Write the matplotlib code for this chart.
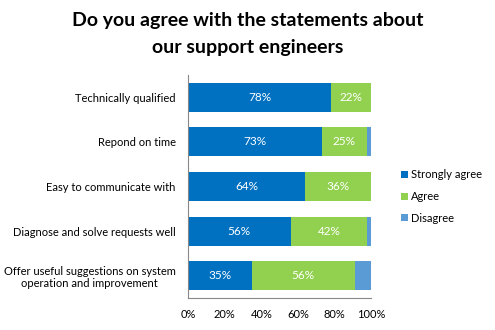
import matplotlib.pyplot as plt
from matplotlib.ticker import FuncFormatter

plt.rcParams['font.family'] = ['Lato', 'DejaVu Sans']

categories = ['Technically qualified',
              'Repond on time',
              'Easy to communicate with',
              'Diagnose and solve requests well',
              'Offer useful suggestions on system\noperation and improvement']
strongly_agree = [78, 73, 64, 56, 35]
agree = [22, 25, 36, 42, 56]
disagree = [0, 2, 0, 2, 9]

series = [('Strongly agree', strongly_agree, '#0070C0'),
          ('Agree', agree, '#92D050'),
          ('Disagree', disagree, '#5B9BD5')]

fig = plt.figure(figsize=(4.95, 3.3), dpi=100)
ax = fig.add_axes([0.38, 0.097, 0.3695, 0.676])

y = list(range(len(categories)))
left = [0] * len(categories)
for name, vals, color in series:
    bars = ax.barh(y, vals, left=left, height=0.65, color=color, label=name)
    if name != 'Disagree':
        for b, v in zip(bars, vals):
            ax.text(b.get_x() + b.get_width() / 2, b.get_y() + b.get_height() / 2,
                    f'{v}%', ha='center', va='center', color='white', fontsize=8.5)
    left = [l + v for l, v in zip(left, vals)]

ax.set_yticks(y)
ax.set_yticklabels(categories, fontsize=8)
ax.set_ylim(len(categories) - 0.5, -0.5)
ax.set_xlim(0, 100)
ax.set_xticks(range(0, 101, 20))
ax.xaxis.set_major_formatter(FuncFormatter(lambda v, p: f'{v:.0f}%'))
ax.tick_params(axis='x', labelsize=8, length=0, pad=8)
ax.tick_params(axis='y', length=0, pad=9)
for s in ['top', 'right']:
    ax.spines[s].set_visible(False)
for s in ['left', 'bottom']:
    ax.spines[s].set_color('#888888')

for lab in ax.get_yticklabels():
    lab.set_multialignment('center')

fig.text(0.5, 0.937, 'Do you agree with the statements about', ha='center', va='center',
         fontsize=14, fontweight='bold')
fig.text(0.5, 0.855, 'our support engineers', ha='center', va='center',
         fontsize=14, fontweight='bold')

ax.legend(loc='center left', bbox_to_anchor=(1.11, 0.455), frameon=False, fontsize=8,
          handlelength=0.6, handleheight=0.6, handletextpad=0.3, labelspacing=0.95)

fig.savefig('out.png', dpi=100)
